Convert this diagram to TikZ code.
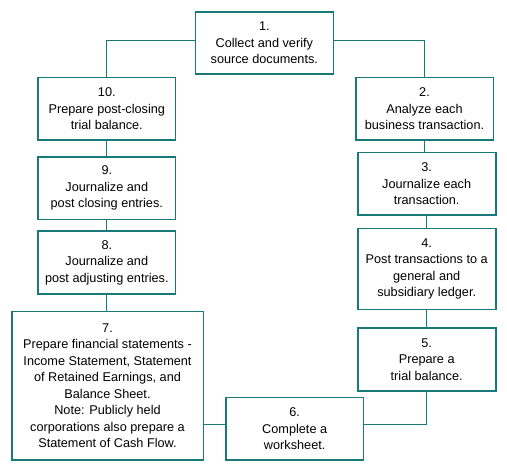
\documentclass[tikz,border=0pt]{standalone}
\usepackage{fontspec}
\setmainfont{Liberation Sans}
\definecolor{teal1}{RGB}{24,122,120}
\begin{document}
\begin{tikzpicture}[x=1pt,y=-1pt,
  stepbox/.style={draw=teal1,line width=1.6pt,align=center,inner sep=0pt,
    font=\fontsize{12.7}{16.5}\selectfont,text=black},
  conn/.style={draw=teal1,line width=1.1pt}]
\useasboundingbox (0,0) rectangle (507,472);
\node[stepbox,minimum width=138pt,minimum height=62pt] (b1) at (264.3,43) {1.\\Collect and verify\\source documents.};
\node[stepbox,minimum width=137.6pt,minimum height=62.7pt] (b2) at (424.5,108.7) {2.\\Analyze each\\business transaction.};
\node[stepbox,minimum width=138pt,minimum height=62.3pt] (b3) at (426.7,183.8) {3.\\Journalize each\\transaction.};
\node[stepbox,minimum width=138pt,minimum height=81pt] (b4) at (426.7,268.8) {4.\\Post transactions to a\\general and\\subsidiary ledger.};
\node[stepbox,minimum width=138pt,minimum height=63pt] (b5) at (426.7,359.2) {5.\\Prepare a\\trial balance.};
\node[stepbox,minimum width=137.3pt,minimum height=62.3pt] (b6) at (294.7,428.8) {6.\\Complete a\\worksheet.};
\node[stepbox,minimum width=191.6pt,minimum height=148.3pt] (b7) at (107.5,385.8) {7.\\Prepare financial statements -\\Income Statement, Statement\\of Retained Earnings, and\\Balance Sheet.\\Note: Publicly held\\corporations also prepare a\\Statement of Cash Flow.};
\node[stepbox,minimum width=137.7pt,minimum height=63pt] (b8) at (106.8,262.5) {8.\\Journalize and\\post adjusting entries.};
\node[stepbox,minimum width=137.7pt,minimum height=62.6pt] (b9) at (106.8,188) {9.\\Journalize and\\post closing entries.};
\node[stepbox,minimum width=137.7pt,minimum height=62.7pt] (b10) at (106.8,108.7) {10.\\Prepare post-closing\\trial balance.};
\coordinate (l1) at ([yshift=2.3pt]b1.west);
\coordinate (r1) at ([yshift=2.3pt]b1.east);
\coordinate (c6e) at ([yshift=4.5pt]b6.east);
\coordinate (c6w) at ([yshift=4.5pt]b6.west);
\draw[conn] (l1) -| (b10.north);
\draw[conn] (r1) -| (b2.north);
\draw[conn] (b2.south) -- (b2.south |- b3.north);
\draw[conn] (b3.south) -- (b4.north);
\draw[conn] (b4.south) -- (b5.north);
\draw[conn] (b5.south) |- (c6e);
\draw[conn] (c6w) -- (b7.east |- c6w);
\draw[conn] (b8.south) -- (b8.south |- b7.north);
\draw[conn] (b9.south) -- (b8.north);
\draw[conn] (b10.south) -- (b9.north);
\end{tikzpicture}
\end{document}
